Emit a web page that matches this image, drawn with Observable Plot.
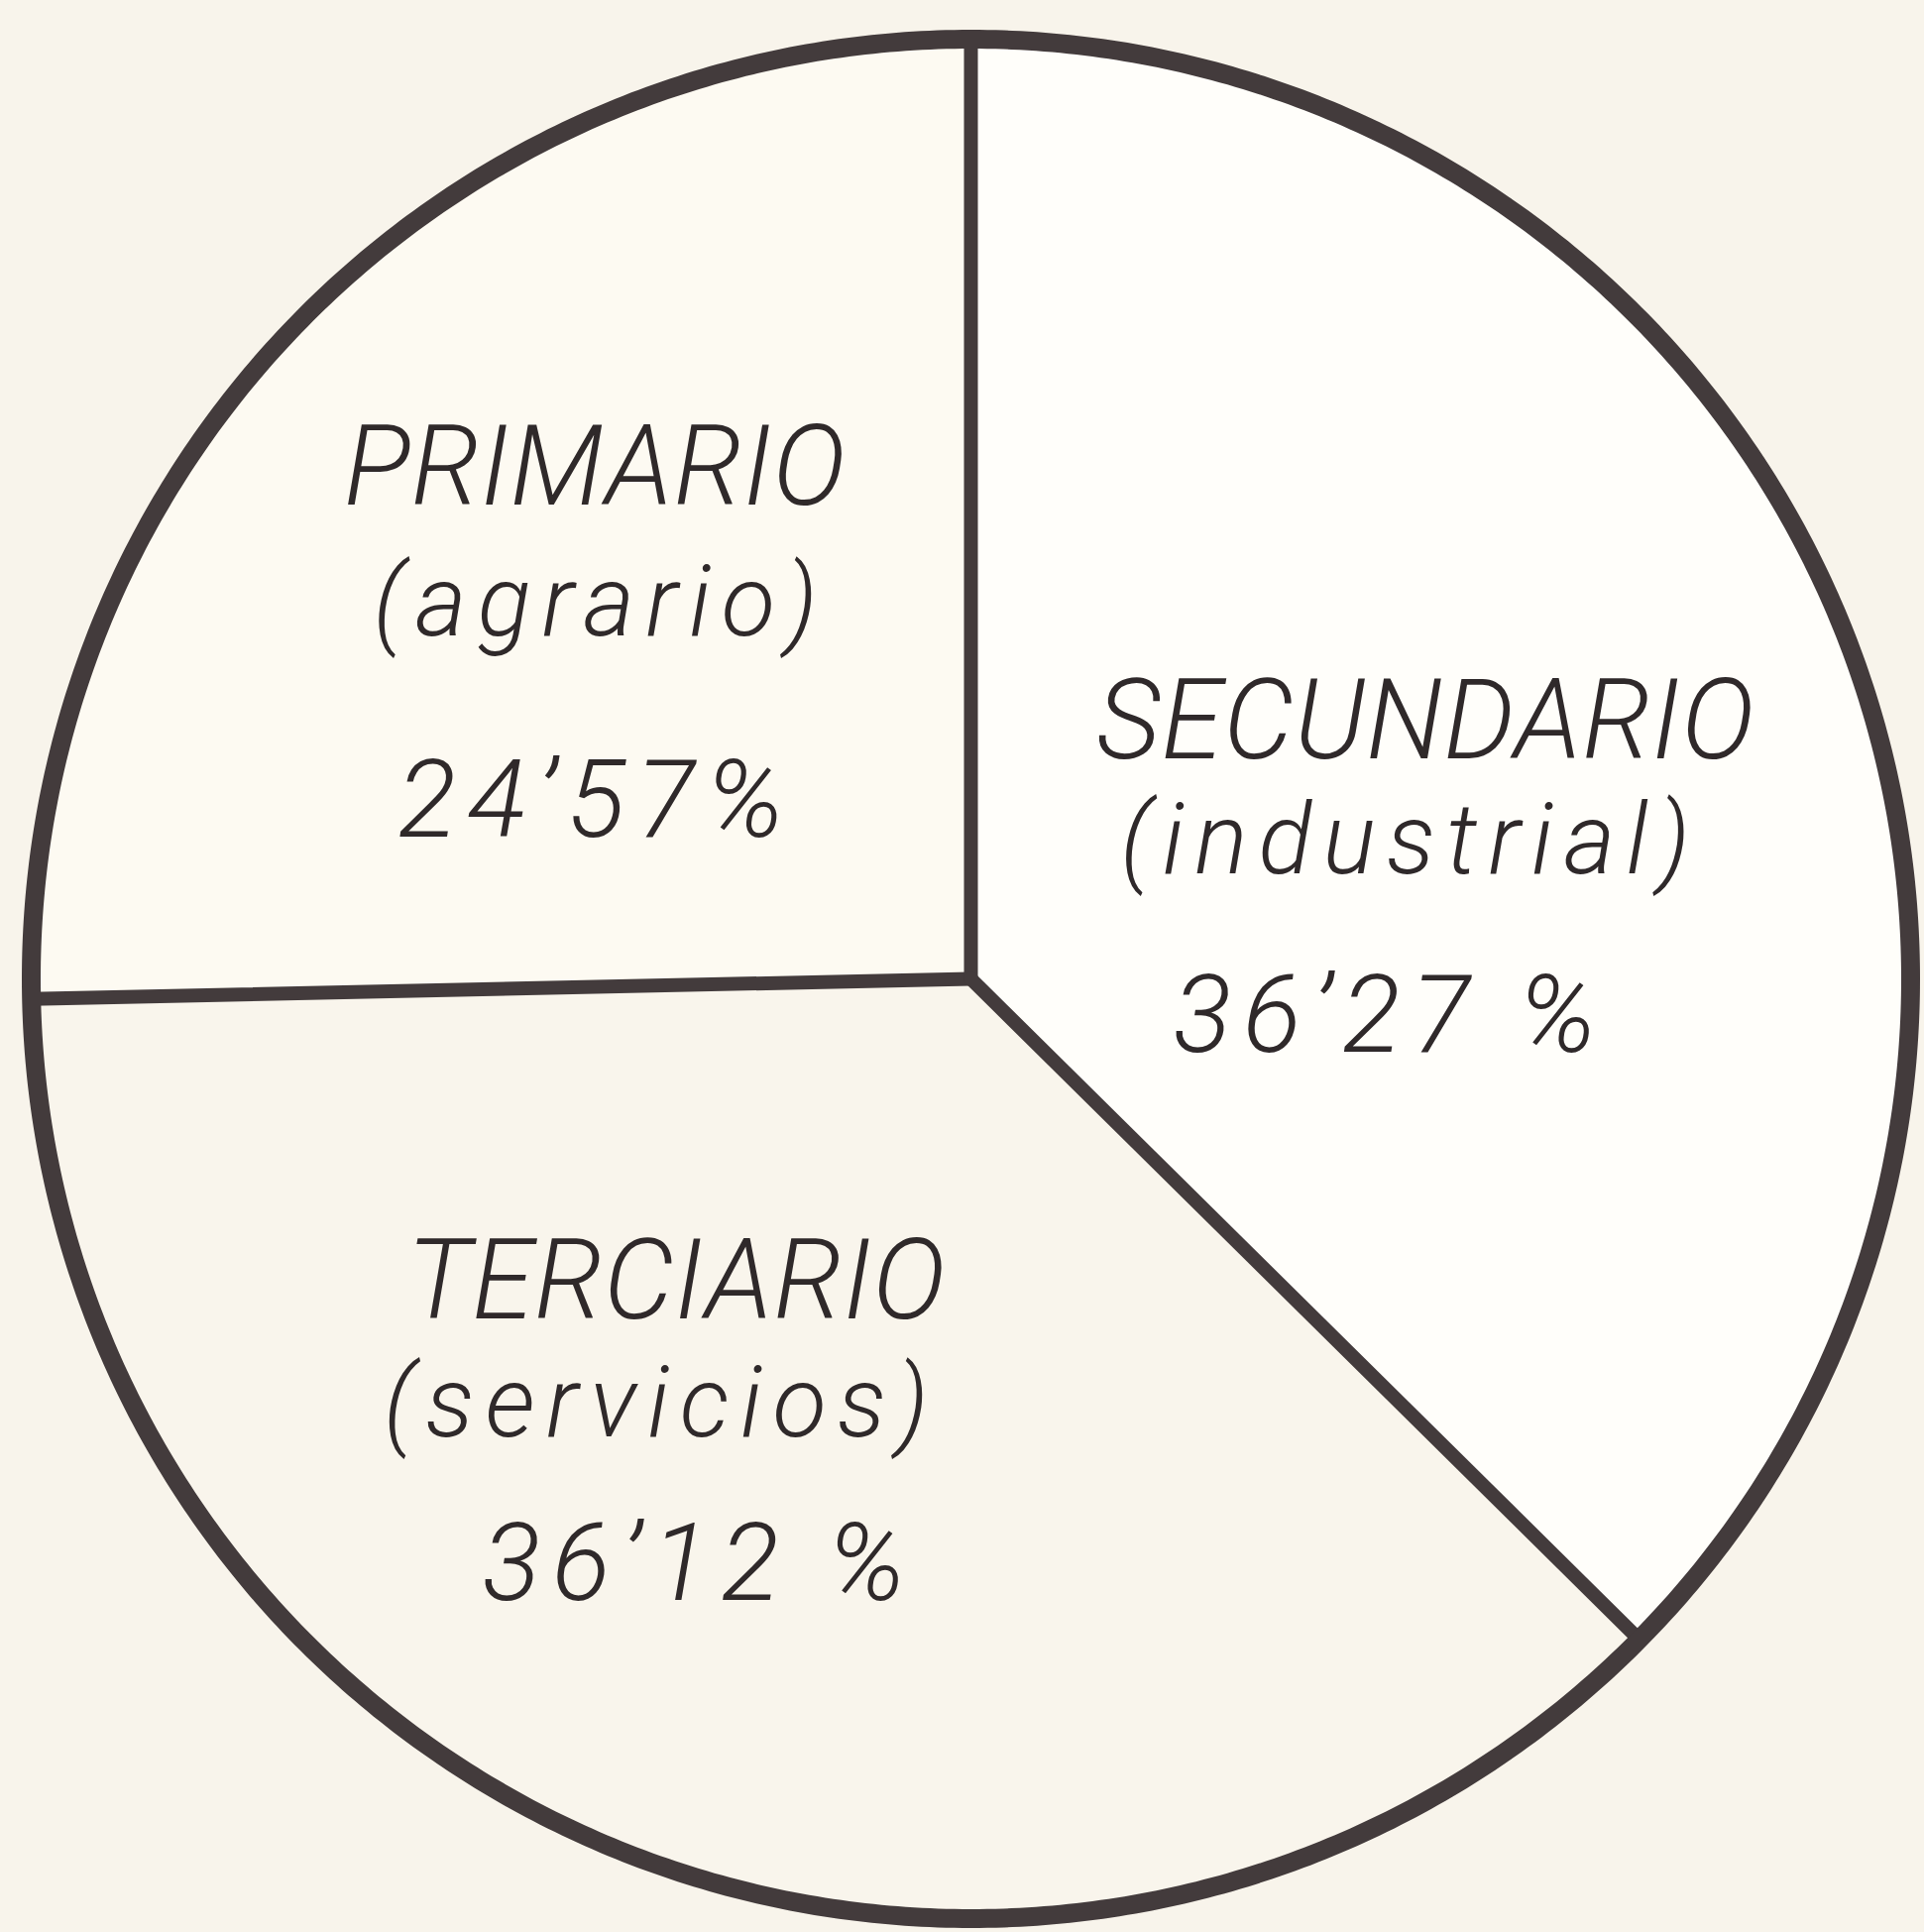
<!DOCTYPE html>
<html>
<head>
<meta charset="utf-8">
<script src="https://cdn.jsdelivr.net/npm/d3@7"></script>
<script src="https://cdn.jsdelivr.net/npm/@observablehq/plot@0.6"></script>
<style>
  html, body { margin: 0; padding: 0; background: #f8f4eb; }
  #chart svg { display: block; }
</style>
</head>
<body>
<div id="chart"></div>
<script>
// ---- data ----
const sectors = ["PRIMARIO", "SECUNDARIO", "TERCIARIO"];
const activities = ["(agrario)", "(industrial)", "(servicios)"];
const shares = [24.57, 36.27, 36.12];
const shareLabels = ["24’57%", "36’27 %", "36’12 %"];

// ---- styling / layout ----
const ink = "#433b3c";
const textInk = "#2f292a";
const sliceFill = ["#fdfaf2", "#fffefa", "#f9f5ec"];
const labelRadius = 0.53;
// per-line nudges (in radius units) from the slice's label anchor
const titleNudge = [[-0.021, 0.134], [-0.005, 0.030], [-0.117, 0.131]];
const subNudge   = [[-0.015, -0.005], [-0.021, -0.092], [-0.133, 0.006]];
const pctNudge   = [[-0.020, -0.219], [-0.043, -0.282], [-0.093, -0.168]];

// ---- pie geometry (clockwise from 12 o'clock; y up) ----
const total = d3.sum(shares);
const start = -2 * Math.PI * shares[0] / total;
const arcs = d3.pie().sort(null).startAngle(start).endAngle(start + 2 * Math.PI)(shares);

const slices = arcs.map((a, i) => {
  const pts = [{x: 0, y: 0}];
  const n = 240;
  for (let k = 0; k <= n; ++k) {
    const t = a.startAngle + (a.endAngle - a.startAngle) * k / n;
    pts.push({x: Math.sin(t), y: Math.cos(t)});
  }
  pts.push({x: 0, y: 0});
  return pts;
});

const ring = d3.range(0, 721).map(k => {
  const t = 2 * Math.PI * k / 720;
  return {x: Math.sin(t), y: Math.cos(t)};
});

const bounds = arcs.map(a => ({x1: 0, y1: 0, x2: Math.sin(a.startAngle), y2: Math.cos(a.startAngle)}));

const anchors = arcs.map(a => {
  const m = (a.startAngle + a.endAngle) / 2;
  return [labelRadius * Math.sin(m), labelRadius * Math.cos(m)];
});
const mk = (texts, nudge) => texts.map((t, i) => ({
  text: t, x: anchors[i][0] + nudge[i][0], y: anchors[i][1] + nudge[i][1]
}));
const titleRows = mk(sectors, titleNudge);
const subRows = mk(activities, subNudge);
const pctRows = mk(shareLabels, pctNudge);

const font = {fontFamily: "Roboto, 'Open Sans', 'DejaVu Sans', sans-serif", fontStyle: "italic", fontWeight: 300, fill: textInk, textAnchor: "middle", lineAnchor: "bottom"};

const plot = Plot.plot({
  width: 1941,
  height: 1949,
  marginLeft: 31,
  marginRight: 14,
  marginTop: 39,
  marginBottom: 14,
  x: {domain: [-1, 1], axis: null},
  y: {domain: [-1, 1], axis: null},
  style: {background: "transparent", overflow: "visible"},
  marks: [
    ...slices.map((pts, i) => Plot.line(pts, {x: "x", y: "y", fill: sliceFill[i], stroke: "none"})),
    Plot.link(bounds, {x1: "x1", y1: "y1", x2: "x2", y2: "y2", stroke: ink, strokeWidth: 14, strokeLinecap: "round"}),
    Plot.line(ring, {x: "x", y: "y", stroke: ink, strokeWidth: 19}),
    Plot.text(titleRows, {x: "x", y: "y", text: "text", fontSize: 112, ...font}),
    Plot.text(subRows, {x: "x", y: "y", text: "text", fontSize: 100, ...font}),
    Plot.text(pctRows, {x: "x", y: "y", text: "text", fontSize: 110, ...font})
  ]
});

// letter spacing of the hand lettering
const spacing = new Map([
  ...sectors.map(t => [t, "1px"]),
  ...activities.map(t => [t, "11px"]),
  ...shareLabels.map(t => [t, "11px"])
]);
d3.select(plot).selectAll("text").each(function() {
  const s = spacing.get(this.textContent);
  if (s) this.style.letterSpacing = s;
});

document.getElementById("chart").appendChild(plot);
</script>
</body>
</html>
